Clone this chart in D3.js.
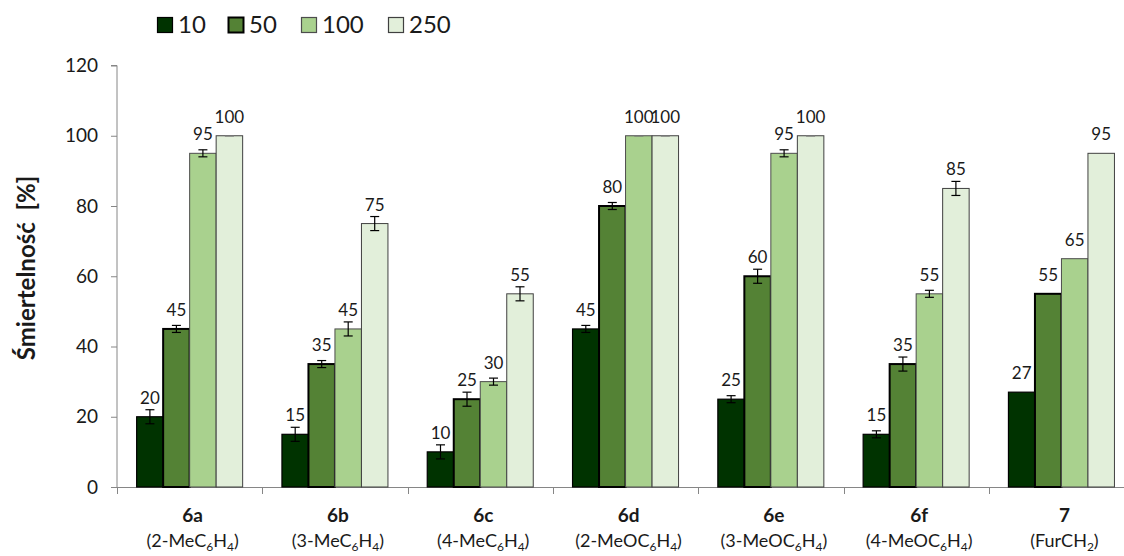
<!DOCTYPE html>
<html>
<head>
<meta charset="utf-8">
<script src="https://cdn.jsdelivr.net/npm/d3@7"></script>
<style>
  body { margin: 0; background: #fff; }
  svg { display: block; }
  text { font-family: Lato, "Open Sans", sans-serif; fill: #1a1a1a; }
</style>
</head>
<body>
<svg id="chart" width="1124" height="556"></svg>
<script>
// Compounds and their substituent labels ("_x" marks a subscript)
const compounds = ["6a", "6b", "6c", "6d", "6e", "6f", "7"];
const substituents = ["(2-MeC_6H_4)", "(3-MeC_6H_4)", "(4-MeC_6H_4)", "(2-MeOC_6H_4)",
                      "(3-MeOC_6H_4)", "(4-MeOC_6H_4)", "(FurCH_2)"];

// Doses (legend entries)
const doses = ["10", "50", "100", "250"];

// Mortality [%] per dose
const mortality10  = [20, 15, 10, 45, 25, 15, 27];
const mortality50  = [45, 35, 25, 80, 60, 35, 55];
const mortality100 = [95, 45, 30, 100, 95, 55, 65];
const mortality250 = [100, 75, 55, 100, 100, 85, 95];

// Standard deviations (null = no error bar)
const error10  = [2, 2, 2, 1, 1, 1, null];
const error50  = [1, 1, 2, 1, 2, 2, null];
const error100 = [1, 2, 1, 0, 1, 1, null];
const error250 = [0, 2, 2, 0, 0, 2, null];

const yTicks = [0, 20, 40, 60, 80, 100, 120];

const series = [
  { dose: doses[0], values: mortality10,  errors: error10,  fill: "#003300", stroke: "#000000", sw: 1.2 },
  { dose: doses[1], values: mortality50,  errors: error50,  fill: "#548235", stroke: "#000000", sw: 2 },
  { dose: doses[2], values: mortality100, errors: error100, fill: "#a9d18e", stroke: "#4d4d4d", sw: 1 },
  { dose: doses[3], values: mortality250, errors: error250, fill: "#e2efda", stroke: "#404040", sw: 1 }
];

const svg = d3.select("#chart");
const left = 117, groupW = 145.3, baseY = 487, topY = 65.5;

const x = d3.scaleBand().domain(compounds).range([left, left + groupW * compounds.length]).padding(0);
const inner = d3.scaleBand().domain(doses).range([19.65, groupW - 19.65]).padding(0);
const y = d3.scaleLinear().domain([0, 120]).range([baseY, topY]);

// Y axis
const yAxis = svg.append("g")
  .attr("transform", `translate(${left},0)`)
  .call(d3.axisLeft(y).tickValues(yTicks).tickSize(6).tickPadding(13));
yAxis.select(".domain").attr("stroke", "#868686").attr("d", `M-6,${topY}H0V${baseY}`);
yAxis.selectAll(".tick line").attr("stroke", "#868686");
yAxis.selectAll(".tick text").attr("font-size", 19).attr("font-family", "Lato, sans-serif").attr("fill", "#1a1a1a");

// X axis line and group separators
const xg = svg.append("g");
xg.append("line").attr("x1", left).attr("x2", 1124).attr("y1", baseY + 0.5).attr("y2", baseY + 0.5)
  .attr("stroke", "#868686");
const seps = compounds.map(c => x(c)).concat([x(compounds[compounds.length - 1]) + x.bandwidth()]);
xg.selectAll("line.sep").data(seps).join("line").attr("class", "sep")
  .attr("x1", d => Math.round(d) + 0.5).attr("x2", d => Math.round(d) + 0.5)
  .attr("y1", baseY).attr("y2", baseY + 7).attr("stroke", "#868686");

// Bars
series.forEach(s => {
  const g = svg.append("g");
  g.selectAll("rect").data(s.values).join("rect")
    .attr("x", (d, i) => x(compounds[i]) + inner(s.dose))
    .attr("width", inner.bandwidth())
    .attr("y", d => y(d))
    .attr("height", d => baseY - y(d))
    .attr("fill", s.fill).attr("stroke", s.stroke).attr("stroke-width", s.sw);
});

// Error bars
series.forEach(s => {
  const g = svg.append("g").attr("stroke", "#000").attr("stroke-width", 1.2);
  s.values.forEach((v, i) => {
    const e = s.errors[i];
    if (e === null) return;
    const cx = x(compounds[i]) + inner(s.dose) + inner.bandwidth() / 2;
    const y1 = y(v + e), y2 = y(v - e);
    if (e > 0) g.append("line").attr("x1", cx).attr("x2", cx).attr("y1", y1).attr("y2", y2);
    [y1, y2].forEach(yy => g.append("line").attr("x1", cx - 4.5).attr("x2", cx + 4.5).attr("y1", yy).attr("y2", yy)
      .attr("stroke", e > 0 ? "#000" : "#777"));
  });
});

// Value labels
series.forEach(s => {
  svg.append("g").selectAll("text").data(s.values).join("text")
    .attr("x", (d, i) => x(compounds[i]) + inner(s.dose) + inner.bandwidth() / 2)
    .attr("y", d => y(d) - 13)
    .attr("text-anchor", "middle").attr("font-size", 17)
    .text(d => d);
});

// Category labels
compounds.forEach((c, i) => {
  const cx = x(c) + x.bandwidth() / 2 + 3;
  svg.append("text").attr("x", cx).attr("y", 522).attr("text-anchor", "middle")
    .attr("font-size", 19).attr("font-weight", "bold").text(c);
  const t = svg.append("text").attr("x", cx).attr("y", 547).attr("text-anchor", "middle").attr("font-size", 18);
  substituents[i].split(/(_\d)/).filter(p => p).forEach(p => {
    if (p.startsWith("_")) {
      t.append("tspan").attr("font-size", 12).attr("dy", 3.5).text(p.slice(1));
    } else {
      const ts = t.append("tspan").text(p);
      if (t.selectAll("tspan").size() > 1) ts.attr("dy", -3.5);
    }
  });
});

// Y axis title
svg.append("text")
  .attr("transform", "translate(35,268) rotate(-90)")
  .attr("text-anchor", "middle").attr("font-size", 24).attr("font-weight", "bold")
  .style("white-space", "pre")
  .text("Śmiertelność\u00a0\u00a0[%]");

// Legend
const legendX = [157, 228, 301, 388];
const lg = svg.append("g");
series.forEach((s, i) => {
  lg.append("rect").attr("x", legendX[i] + 0.5).attr("y", 17.5).attr("width", 15).attr("height", 15)
    .attr("fill", s.fill).attr("stroke", s.stroke).attr("stroke-width", i === 1 ? 2 : 1.2);
  lg.append("text").attr("x", legendX[i] + 21).attr("y", 33).attr("font-size", 24).text(s.dose);
});
</script>
</body>
</html>
